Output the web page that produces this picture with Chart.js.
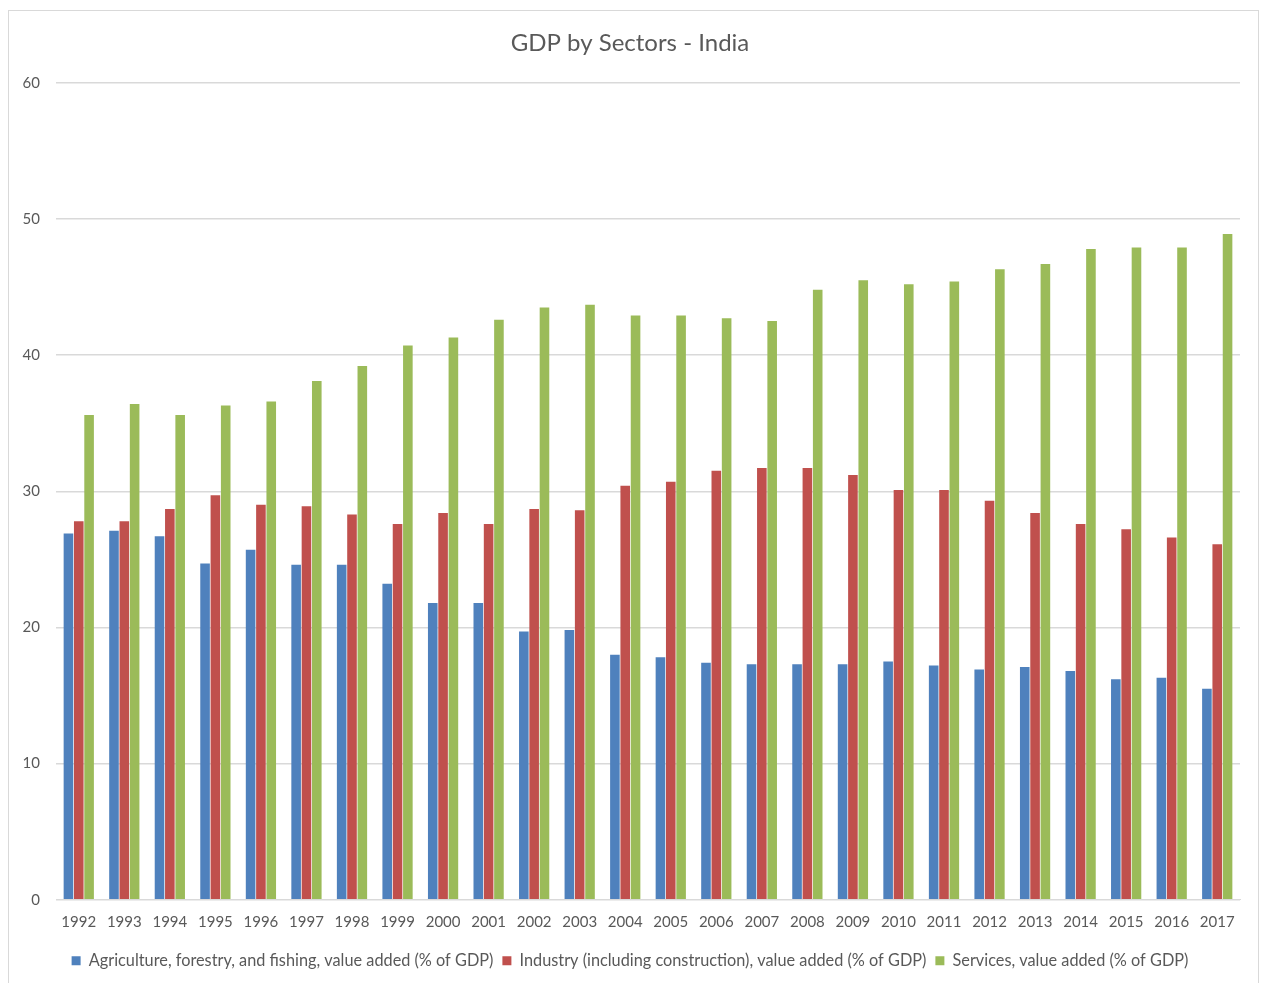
<!DOCTYPE html>
<html>
<head>
<meta charset="utf-8">
<script src="https://cdn.jsdelivr.net/npm/chart.js@4.4.0/dist/chart.umd.min.js"></script>
<style>
  html, body { margin: 0; padding: 0; background: #fff; }
  #box {
    position: absolute; left: 8px; top: 10px; width: 1251px; height: 980px;
    border: 1px solid #d9d9d9; box-sizing: border-box;
  }
  #wrap { position: absolute; left: 0; top: 0; width: 1261px; height: 983px; }
</style>
</head>
<body>
<div id="box"></div>
<div id="wrap"><canvas id="chart-gdp"></canvas></div>
<script>
// Anos
const years = ['1992','1993','1994','1995','1996','1997','1998','1999','2000','2001','2002','2003','2004',
  '2005','2006','2007','2008','2009','2010','2011','2012','2013','2014','2015','2016','2017'];

// Valores (% do PIB)
const agriculture = [26.9, 27.1, 26.7, 24.7, 25.7, 24.6, 24.6, 23.2, 21.8, 21.8, 19.7, 19.8, 18.0,
  17.8, 17.4, 17.3, 17.3, 17.3, 17.5, 17.2, 16.9, 17.1, 16.8, 16.2, 16.3, 15.5];
const industry = [27.8, 27.8, 28.7, 29.7, 29.0, 28.9, 28.3, 27.6, 28.4, 27.6, 28.7, 28.6, 30.4,
  30.7, 31.5, 31.7, 31.7, 31.2, 30.1, 30.1, 29.3, 28.4, 27.6, 27.2, 26.6, 26.1];
const services = [35.6, 36.4, 35.6, 36.3, 36.6, 38.1, 39.2, 40.7, 41.3, 42.6, 43.5, 43.7, 42.9,
  42.9, 42.7, 42.5, 44.8, 45.5, 45.2, 45.4, 46.3, 46.7, 47.8, 47.9, 47.9, 48.9];

const yTicks = [0, 10, 20, 30, 40, 50, 60];

const FONT = 'Lato, "Open Sans", sans-serif';
const GREY_TEXT = '#595959';

const data_gdp = {
  labels: years,
  datasets: [{
    label: 'Agriculture, forestry, and fishing, value added (% of GDP)',
    backgroundColor: '#4F81BD',
    data: agriculture,
  },
  {
    label: 'Industry (including construction), value added (% of GDP)',
    backgroundColor: '#C0504D',
    data: industry,
  },
  {
    label: 'Services, value added (% of GDP)',
    backgroundColor: '#9BBB59',
    data: services,
  }]
};

const config_gdp = {
  type: 'bar',
  data: data_gdp,
  options: {
    responsive: true,
    maintainAspectRatio: false,
    animation: false,
    datasets: {
      bar: {
        categoryPercentage: 0.68,
        barPercentage: 0.93,
      }
    },
    layout: {
      padding: { left: 20, right: 21, top: 29, bottom: 4 }
    },
    scales: {
      x: {
        grid: { display: false, drawTicks: false },
        border: { color: '#d9d9d9', width: 1 },
        ticks: {
          color: GREY_TEXT,
          padding: 13,
          maxRotation: 0,
          autoSkip: false,
          font: { family: FONT, size: 15 }
        }
      },
      y: {
        min: 0,
        max: 60,
        afterBuildTicks: (scale) => { scale.ticks = yTicks.map(v => ({ value: v })); },
        afterFit: (scale) => { scale.width = 36; },
        grid: { color: '#d9d9d9', lineWidth: 1.5, drawTicks: false },
        border: { display: false },
        ticks: {
          color: GREY_TEXT,
          padding: 16,
          font: { family: FONT, size: 15 }
        }
      }
    },
    plugins: {
      title: {
        display: true,
        text: 'GDP by Sectors - India',
        color: GREY_TEXT,
        padding: { top: 0, bottom: 25 },
        font: { family: FONT, size: 24, weight: 'normal' }
      },
      legend: {
        position: 'bottom',
        labels: {
          color: GREY_TEXT,
          boxWidth: 9,
          boxHeight: 9,
          padding: 9,
          font: { family: FONT, size: 16.3 }
        }
      },
      tooltip: { enabled: false }
    }
  }
};

const myChart_gdp = new Chart(
  document.getElementById('chart-gdp'),
  config_gdp
);
</script>
</body>
</html>
